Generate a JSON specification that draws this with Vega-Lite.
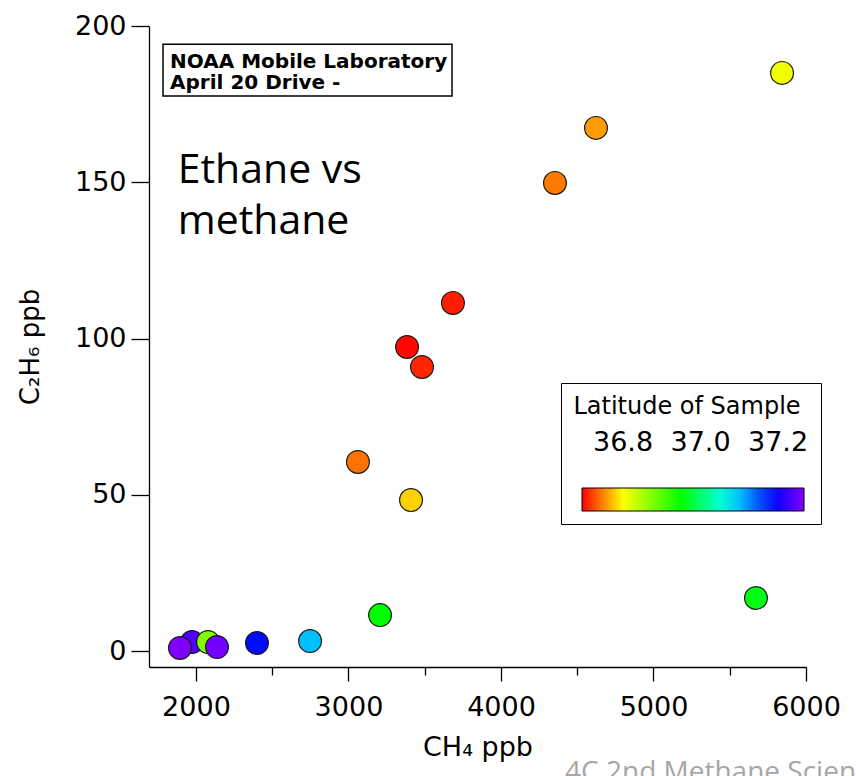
{
  "$schema": "https://vega.github.io/schema/vega-lite/v6.json",
  "width": 657,
  "height": 641,
  "autosize": {"type": "none"},
  "padding": {"left": 149, "top": 26, "right": 50, "bottom": 109},
  "background": "white",
  "config": {
    "view": {"stroke": null},
    "font": "DejaVu Sans",
    "axis": {
      "domainColor": "black",
      "tickColor": "black",
      "labelColor": "black",
      "titleColor": "black",
      "grid": false,
      "domainWidth": 1.3,
      "tickWidth": 1.3,
      "labelFlush": false,
      "labelOverlap": false
    }
  },
  "datasets": {
    "samples": [
      {"ch4": 1974, "c2h6": 2.9, "lat": 37.238},
      {"ch4": 2079, "c2h6": 2.9, "lat": 36.875},
      {"ch4": 1895, "c2h6": 1.0, "lat": 37.267},
      {"ch4": 2138, "c2h6": 1.3, "lat": 37.26},
      {"ch4": 2400, "c2h6": 2.6, "lat": 37.185},
      {"ch4": 2748, "c2h6": 3.2, "lat": 37.10},
      {"ch4": 3207, "c2h6": 11.5, "lat": 36.95},
      {"ch4": 5672, "c2h6": 17.0, "lat": 36.96},
      {"ch4": 3410, "c2h6": 48.3, "lat": 36.781},
      {"ch4": 3062, "c2h6": 60.5, "lat": 36.741},
      {"ch4": 3482, "c2h6": 90.9, "lat": 36.71},
      {"ch4": 3384, "c2h6": 97.3, "lat": 36.697},
      {"ch4": 3685, "c2h6": 111.4, "lat": 36.707},
      {"ch4": 4354, "c2h6": 149.8, "lat": 36.744},
      {"ch4": 4623, "c2h6": 167.4, "lat": 36.758},
      {"ch4": 5843, "c2h6": 185.0, "lat": 36.809}
    ],
    "single": [{}]
  },
  "resolve": {"axis": {"x": "independent", "y": "independent"}},
  "layer": [
    {
      "data": {"name": "single"},
      "mark": {"type": "rect", "fill": "white", "stroke": "black", "strokeWidth": 1.5},
      "encoding": {
        "x": {"datum": 1784, "type": "quantitative", "axis": null},
        "x2": {"datum": 3679},
        "y": {"datum": 194.2, "type": "quantitative", "axis": null},
        "y2": {"datum": 177.6}
      }
    },
    {
      "data": {"name": "single"},
      "mark": {"type": "text", "text": ["NOAA Mobile Laboratory", "April 20 Drive -"], "font": "DejaVu Sans", "fontWeight": "bold", "fontSize": 20, "lineHeight": 21, "align": "left", "baseline": "alphabetic", "color": "black"},
      "encoding": {
        "x": {"datum": 1830, "type": "quantitative", "axis": null},
        "y": {"datum": 186.6, "type": "quantitative", "axis": null}
      }
    },
    {
      "data": {"name": "single"},
      "mark": {"type": "text", "text": ["Ethane vs", "methane"], "font": "Open Sans", "fontSize": 41, "lineHeight": 51, "align": "left", "baseline": "alphabetic", "color": "black"},
      "encoding": {
        "x": {"datum": 1880, "type": "quantitative", "axis": null},
        "y": {"datum": 149.8, "type": "quantitative", "axis": null}
      }
    },
    {
      "data": {"name": "single"},
      "mark": {"type": "text", "text": "4C 2nd Methane Science", "font": "Open Sans", "fontSize": 28, "align": "left", "baseline": "alphabetic", "color": "#a6a6a6"},
      "encoding": {
        "x": {"datum": 4420, "type": "quantitative", "axis": null},
        "y": {"datum": -41.6, "type": "quantitative", "axis": null}
      }
    },
    {
      "data": {"name": "samples"},
      "mark": {"type": "point", "opacity": 0},
      "encoding": {
        "x": {"field": "ch4", "type": "quantitative",
              "axis": {"orient": "bottom", "values": [2500, 3500, 4500, 5500], "tickSize": 8, "labels": false, "domain": false, "title": null}},
        "y": {"field": "c2h6", "type": "quantitative", "axis": null}
      }
    },
    {
      "data": {"name": "samples"},
      "mark": {"type": "circle", "size": 520, "opacity": 1, "stroke": "#1a1a1a", "strokeWidth": 1.2},
      "encoding": {
        "x": {
          "field": "ch4", "type": "quantitative",
          "scale": {"domain": [1692, 6000], "nice": false, "zero": false},
          "axis": {"orient": "bottom", "title": "CH₄ ppb", "values": [2000, 3000, 4000, 5000, 6000], "format": "d", "tickSize": 14, "labelPadding": 13, "labelFontSize": 27, "titleFontSize": 27, "titleFontWeight": "normal", "titlePadding": 14}
        },
        "y": {
          "field": "c2h6", "type": "quantitative",
          "scale": {"domain": [-5.1, 200], "nice": false, "zero": false},
          "axis": {"orient": "left", "title": "C₂H₆ ppb", "values": [0, 50, 100, 150, 200], "format": "d", "tickSize": 18, "labelPadding": 5, "labelFontSize": 27, "titleFontSize": 26, "titleFontWeight": "normal", "titlePadding": 31}
        },
        "color": {
          "field": "lat", "type": "quantitative",
          "scale": {"domain": [36.694, 36.80, 36.95, 37.07, 37.19, 37.267], "range": ["#ff0000", "#ffff00", "#00ff00", "#00ffff", "#0000ff", "#8000ff"], "interpolate": "rgb"},
          "legend": {
            "title": "Latitude of Sample",
            "orient": "none", "legendX": 412, "legendY": 357,
            "direction": "horizontal",
            "gradientLength": 222, "gradientThickness": 23,
            "gradientStrokeColor": "black", "gradientStrokeWidth": 1,
            "values": [36.8, 37.0, 37.2], "format": ".1f",
            "labelFontSize": 27, "labelOffset": -81, "labelColor": "black", "labelAlign": "center",
            "titleFontSize": 24, "titleFontWeight": "normal", "titlePadding": 69, "titleLimit": 400, "titleColor": "black", "titleAnchor": "middle",
            "padding": 12, "strokeColor": "black", "fillColor": "white"
          }
        }
      }
    }
  ]
}
